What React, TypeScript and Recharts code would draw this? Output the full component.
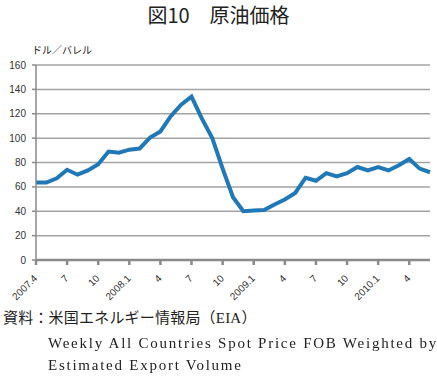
import React from 'react';
import { LineChart, Line, XAxis, YAxis, CartesianGrid } from 'recharts';

// monthly crude oil price, USD/barrel, 2007.4 - 2010.6
const months = [
    '2007.4', '2007.5', '2007.6', '2007.7', '2007.8', '2007.9', '2007.10', '2007.11', '2007.12',
    '2008.1', '2008.2', '2008.3', '2008.4', '2008.5', '2008.6', '2008.7', '2008.8', '2008.9',
    '2008.10', '2008.11', '2008.12', '2009.1', '2009.2', '2009.3', '2009.4', '2009.5', '2009.6',
    '2009.7', '2009.8', '2009.9', '2009.10', '2009.11', '2009.12', '2010.1', '2010.2', '2010.3',
    '2010.4', '2010.5', '2010.6',
];
const prices = [
    63.5, 63.6, 67, 74, 70, 73.5, 78.5, 89, 88,
    90.5, 91.5, 100.5, 105.5, 118, 127.5, 134, 116, 100,
    75, 51.5, 40, 40.6, 41, 45.5, 49.7, 55, 67.5,
    65, 71.3, 68.6, 71.3, 76.3, 73.5, 76.3, 73.5, 77.7,
    82.9, 75, 72,
];
const yTicks = [0, 20, 40, 60, 80, 100, 120, 140, 160];

const data = months.map((m, i) => ({ month: m, price: prices[i] }));

const tickLabel = (m: string) => {
    if (m === months[0] || m.endsWith('.1')) return m;
    return m.split('.')[1];
};

const XTick = ({ x, y, payload }: any) => (
    <text
        x={x + 2}
        y={y + 12}
        transform={`rotate(-45, ${x + 2}, ${y + 12})`}
        textAnchor="end"
        fontSize={10}
        fill="#333"
        fontFamily="Liberation Sans, Arial, sans-serif"
    >
        {tickLabel(payload.value)}
    </text>
);

export default function App() {
    return (
        <div style={{ position: 'fixed', left: 0, top: 0, width: 437, height: 378, background: '#fff', fontFamily: '"Noto Sans CJK JP", sans-serif', color: '#222' }}>
            <div style={{ position: 'absolute', left: 0, top: 0, width: 437, textAlign: 'center', fontSize: 20, lineHeight: '30px' }}>
                図10　原油価格
            </div>
            <div style={{ position: 'absolute', left: 32, top: 43, fontSize: 10, lineHeight: '14px' }}>ドル／バレル</div>
            <LineChart
                width={437}
                height={320}
                data={data}
                margin={{ top: 65, right: 7, left: 0, bottom: 0 }}
                style={{ position: 'absolute', left: 0, top: 0 }}
            >
                <CartesianGrid vertical={false} stroke="#a3a3a3" strokeWidth={1.5} />
                <XAxis
                    dataKey="month"
                    interval={2}
                    height={60}
                    padding={{ left: 0, right: 0 }}
                    stroke="#8a8a8a"
                    strokeWidth={2.5}
                    tickSize={5}
                    tick={<XTick />}
                />
                <YAxis
                    domain={[0, 160]}
                    ticks={yTicks}
                    width={36}
                    stroke="#8a8a8a"
                    strokeWidth={1.5}
                    tickSize={4}
                    tickMargin={6}
                    tick={{ fontSize: 10, fill: '#333', fontFamily: 'Liberation Sans, Arial, sans-serif' }}
                />
                <Line
                    type="linear"
                    dataKey="price"
                    stroke="#2178b7"
                    strokeWidth={4}
                    dot={false}
                    isAnimationActive={false}
                />
            </LineChart>
            <div style={{ position: 'absolute', left: 3, top: 307, fontSize: 15, lineHeight: '22px', letterSpacing: 0.2, fontFamily: '"Liberation Serif", "Noto Sans CJK JP", serif' }}>
                資料：米国エネルギー情報局（EIA）
            </div>
            <div style={{ position: 'absolute', left: 48, top: 332, fontSize: 15, lineHeight: '22px', letterSpacing: 1.75, fontFamily: '"Liberation Serif", serif', whiteSpace: 'nowrap' }}>
                Weekly All Countries Spot Price FOB Weighted by
                <br />
                Estimated Export Volume
            </div>
        </div>
    );
}
